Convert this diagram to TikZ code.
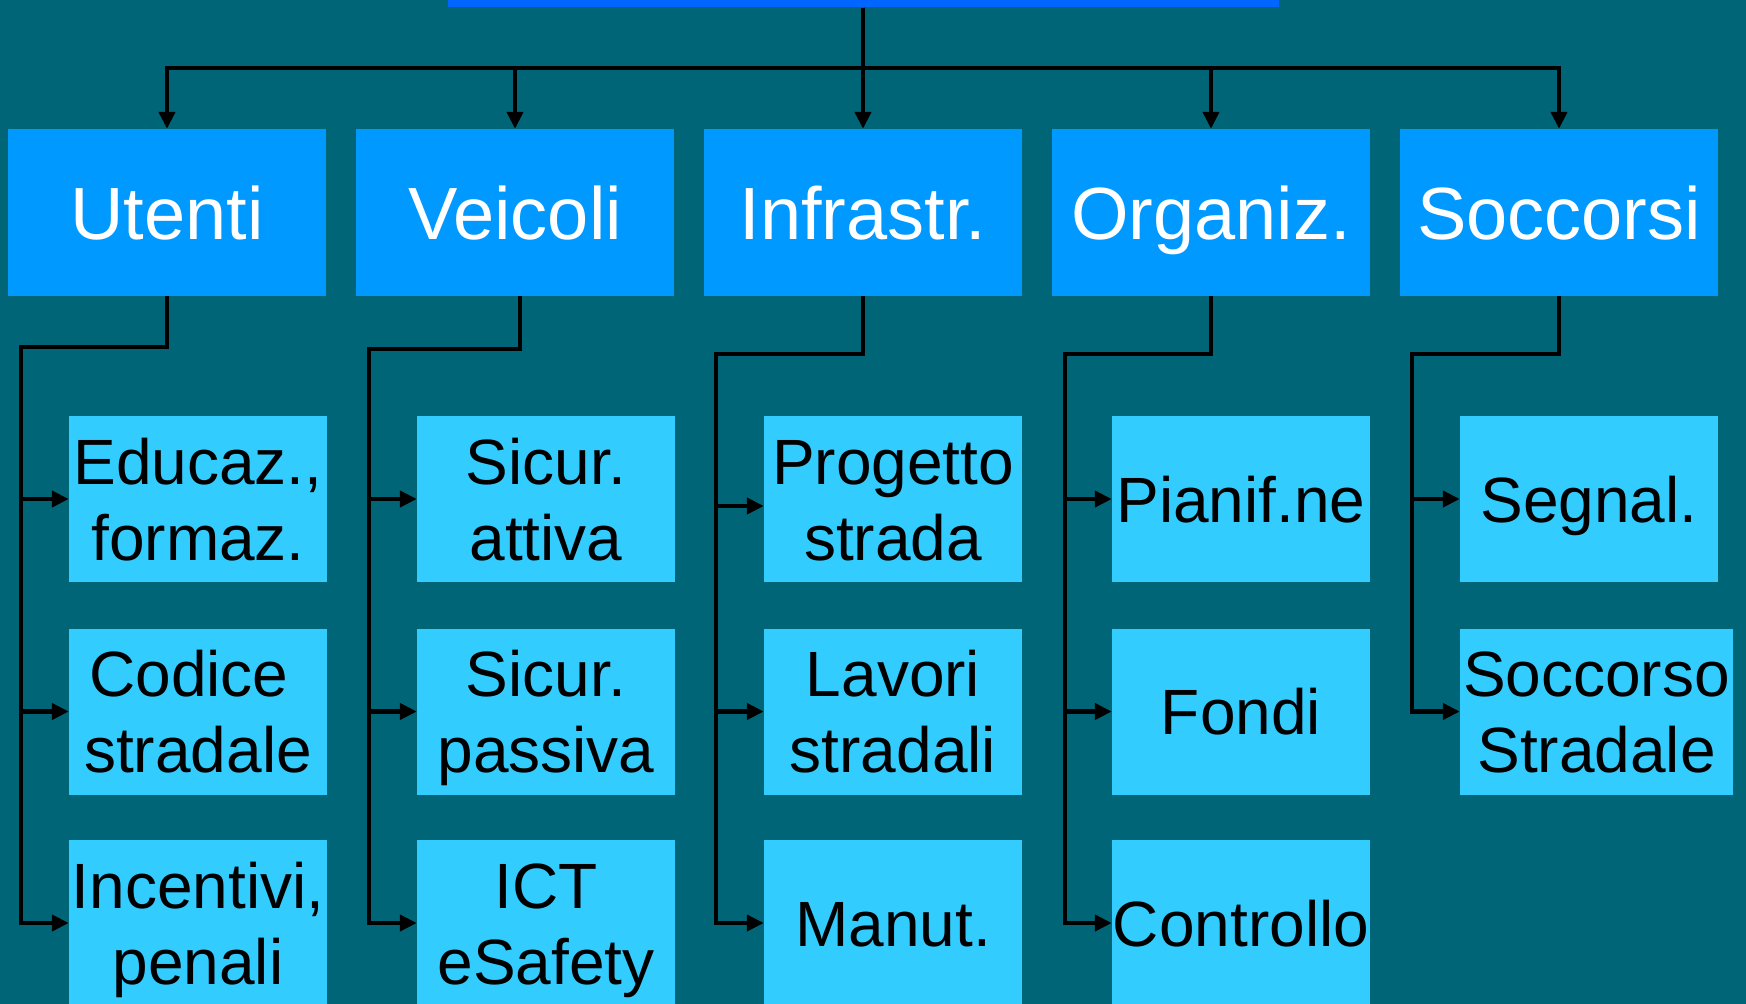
\documentclass[tikz,border=0pt]{standalone}
\usepackage{fontspec}
\setmainfont{Liberation Sans}
\usetikzlibrary{arrows.meta}
\definecolor{bg}{HTML}{006677}
\definecolor{topblue}{HTML}{0099FF}
\definecolor{subblue}{HTML}{33CCFF}
\definecolor{barblue}{HTML}{0066FF}
\begin{document}
\begin{tikzpicture}[x=1pt,y=-1pt,
  topbox/.style={fill=topblue, text=white, minimum width=318pt, minimum height=167pt, inner sep=0pt,
    font=\fontsize{74}{85}\selectfont, text height=53pt, text depth=0pt},
  subbox/.style={fill=subblue, text=black, minimum width=258pt, minimum height=166pt, inner sep=0pt,
    align=center, font=\fontsize{64}{76}\selectfont, text height=46pt, text depth=0pt},
  twolines/.style={text height=122pt, text depth=0pt},
  conn/.style={line width=4.5pt, -{Triangle[length=17pt,width=16pt]}}]
\clip (0,0) rectangle (1746,1004);
\fill[bg] (0,0) rectangle (1746,1004);
\node[fill=barblue, minimum width=831pt, minimum height=40pt, inner sep=0pt, anchor=south] (bar) at (863,7.5) {};
% top level
\node[topbox] (U) at (167,212.5) {Utenti};
\node[topbox] (V) at (515,212.5) {Veicoli};
\node[topbox] (I) at (863,212.5) {Infrastr.};
\node[topbox] (O) at (1211,212.5) {Organiz.};
\node[topbox] (S) at (1559,212.5) {Soccorsi};
% children
\node[subbox,twolines] (u1) at (198,499) {Educaz.,\\formaz.};
\node[subbox,twolines] (u2) at (198,711.5) {Codice\hspace*{18pt}\\stradale};
\node[subbox,twolines] (u3) at (198,923) {Incentivi,\\penali};
\node[subbox,twolines] (v1) at (546,499) {Sicur.\\attiva};
\node[subbox,twolines] (v2) at (546,711.5) {Sicur.\\passiva};
\node[subbox,twolines] (v3) at (546,923) {ICT\\eSafety};
\node[subbox,twolines] (i1) at (893,499) {Progetto\\strada};
\node[subbox,twolines] (i2) at (893,711.5) {Lavori\\stradali};
\node[subbox] (i3) at (893,923) {Manut.};
\node[subbox] (o1) at (1241,499) {Pianif.ne};
\node[subbox] (o2) at (1241,711.5) {Fondi};
\node[subbox] (o3) at (1241,923) {Controllo};
\node[subbox] (s1) at (1589,499) {Segnal.};
\node[subbox,twolines,minimum width=273pt] (s2) at (1596.5,711.5) {Soccorso\\Stradale};
% connectors top
\coordinate (hub) at (863,68);
\foreach \n in {U,V,I,O,S} \draw[conn] (bar.south) -- (hub) -| (\n.north);
% connectors children
\foreach \c in {u1,u2,u3} \draw[conn] (U.south) |- (21,347) |- (\c.west);
\foreach \c in {v1,v2,v3} \draw[conn] ([xshift=5pt]V.south) |- (369,349) |- (\c.west);
\draw[conn] (I.south) |- (716,354) |- ([yshift=-7pt]i1.west);
\foreach \c in {i2,i3} \draw[conn] (I.south) |- (716,354) |- (\c.west);
\foreach \c in {o1,o2,o3} \draw[conn] (O.south) |- (1065,354) |- (\c.west);
\foreach \c in {s1,s2} \draw[conn] (S.south) |- (1412,354) |- (\c.west);
\end{tikzpicture}
\end{document}
